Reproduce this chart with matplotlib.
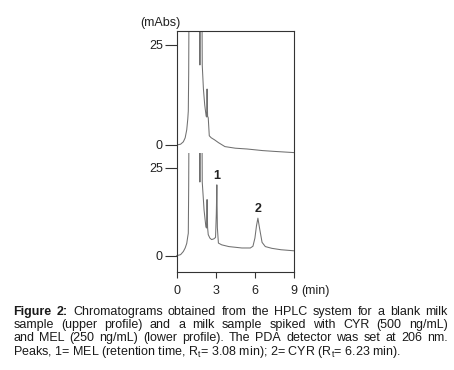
import numpy as np
import matplotlib
matplotlib.use("Agg")
import matplotlib.pyplot as plt
from matplotlib.patches import Rectangle

plt.rcParams['font.family'] = ['Liberation Sans', 'DejaVu Sans']
plt.rcParams['mathtext.fontset'] = 'custom'
plt.rcParams['mathtext.rm'] = 'Liberation Sans'

# Upper profile: blank milk (time in min, absorbance in mAbs)
blank_time = [0.0, 0.3, 0.51, 0.65, 0.77, 0.85, 0.89, 0.92, 0.95, 1.2, 1.5,
              1.75, 1.78, 1.81, 1.93, 1.96, 2.05, 2.15, 2.26, 2.30, 2.33,
              2.37, 2.42, 2.50, 2.65, 2.9, 3.2, 3.7, 4.5, 5.4, 6.6, 7.5, 9.0]
blank_abs = [0.0, 0.2, 0.8, 1.8, 3.8, 6.5, 8.5, 18, 40, 45, 45,
             40, 20, 40, 40, 20, 14, 10, 7.2, 7.0, 14, 7.2, 6.8, 2.3, 1.8,
             1.3, 0.6, -0.4, -0.8, -1.0, -1.4, -1.6, -1.9]

# Lower profile: milk spiked with CYR and MEL
spiked_time = [0.0, 0.3, 0.51, 0.65, 0.77, 0.85, 0.89, 0.92, 0.95, 1.3,
               1.75, 1.78, 1.81, 1.93, 1.96, 2.10, 2.24, 2.29, 2.33, 2.37,
               2.42, 2.55, 2.68, 2.85, 2.98, 3.04, 3.08, 3.12, 3.20, 3.45,
               4.0, 5.0, 5.65, 5.85, 6.0, 6.12, 6.23, 6.35, 6.55, 6.8, 7.3,
               8.0, 9.0]
spiked_abs = [0.0, 0.3, 1.2, 2.2, 3.5, 5.5, 6.4, 20, 45, 50,
              45, 21, 45, 45, 21, 13, 8.2, 7.9, 16, 8,
              6, 5, 4.6, 4.8, 5.2, 12, 20.2, 8, 3.6, 3.1,
              2.6, 2.2, 2.2, 2.7, 5.0, 8.5, 10.7, 8.0, 3.8, 2.6, 2.1,
              1.7, 1.4]

peak_labels = ['1', '2']
peak_times = [3.08, 6.23]
peak_heights = [20.2, 10.7]

x_ticks = [0, 3, 6, 9]

caption_lines = [
    [('Figure', 'bold'), ('2:', 'bold'), ('Chromatograms', 'normal'),
     ('obtained', 'normal'), ('from', 'normal'), ('the', 'normal'),
     ('HPLC', 'normal'), ('system', 'normal'), ('for', 'normal'),
     ('a', 'normal'), ('blank', 'normal'), ('milk', 'normal')],
    [(w, 'normal') for w in
     'sample (upper profile) and a milk sample spiked with CYR (500 ng/mL)'.split()],
    [(w, 'normal') for w in
     'and MEL (250 ng/mL) (lower profile). The PDA detector was set at 206 nm.'.split()],
]
caption_last = (r'Peaks, 1= MEL (retention time, R$_\mathregular{t}$= 3.08 min); '
                r'2= CYR (R$_\mathregular{t}$= 6.23 min).')

W, H = 454, 370
fig = plt.figure(figsize=(W / 100, H / 100), dpi=100)
ax = fig.add_axes([176.7 / W, 1 - 271.7 / H, (294 - 176.7) / W, (271.7 - 31) / H])

# vertical offsets / scales of the two stacked profiles (axis units = px)
off_up, s_up = 126.7, 4.0
off_lo, s_lo = 16.0, 3.508
trace_col = '#707070'

ax.plot(blank_time, off_up + s_up * np.array(blank_abs), color=trace_col, lw=0.75)
lo_line, = ax.plot(spiked_time, off_lo + s_lo * np.array(spiked_abs),
                   color=trace_col, lw=0.75)
clip = Rectangle((-1, -10), 11, 118.7 + 10, transform=ax.transData)
lo_line.set_clip_path(clip)

for lab, t, h in zip(peak_labels, peak_times, peak_heights):
    ax.annotate(lab, xy=(t, off_lo + s_lo * h), xytext=(0, 2),
                textcoords='offset points', ha='center', va='bottom',
                fontsize=9, fontweight='bold', color='#222222')

ax.set_xlim(0, 9)
ax.set_ylim(0, 240.7)
ax.set_xticks(x_ticks)
ax.set_xticklabels([str(v) for v in x_ticks])
ax.set_yticks([off_up + 25 * s_up, off_up, off_lo + 25 * s_lo, off_lo])
ax.set_yticklabels(['25', '0', '25', '0'])
ax.tick_params(axis='y', length=9, width=0.8, pad=1, labelsize=9,
               colors='#333333', labelcolor='#222222')
ax.tick_params(axis='x', length=4.5, width=0.8, pad=4.8, labelsize=9,
               colors='#333333', labelcolor='#222222')
for sp in ax.spines.values():
    sp.set_linewidth(0.8)
    sp.set_color('#333333')

ax.annotate('(min)', xy=(1, 0), xycoords='axes fraction', xytext=(5.5, -9.3),
            textcoords='offset points', ha='left', va='top', fontsize=9,
            color='#222222')
fig.text(140 / W, 1 - 23 / H, '(mAbs)', ha='left', va='center', fontsize=9,
         color='#222222')

# justified caption
renderer = fig.canvas.get_renderer()
x0, x1 = 13.3 / W, 447.7 / W
for i, words in enumerate(caption_lines):
    y = 1 - (311.7 + i * 13.3) / H
    arts = [fig.text(0, y, w, fontsize=9, fontweight=fw, va='center',
                     color='#1a1a1a') for w, fw in words]
    widths = [a.get_window_extent(renderer).width / fig.bbox.width for a in arts]
    gap = (x1 - x0 - sum(widths)) / (len(arts) - 1)
    x = x0
    for a, wd in zip(arts, widths):
        a.set_x(x)
        x += wd + gap
fig.text(x0, 1 - (311.7 + 3 * 13.3) / H, caption_last, fontsize=9,
         va='center', color='#1a1a1a')

fig.savefig('out.png', dpi=100)
